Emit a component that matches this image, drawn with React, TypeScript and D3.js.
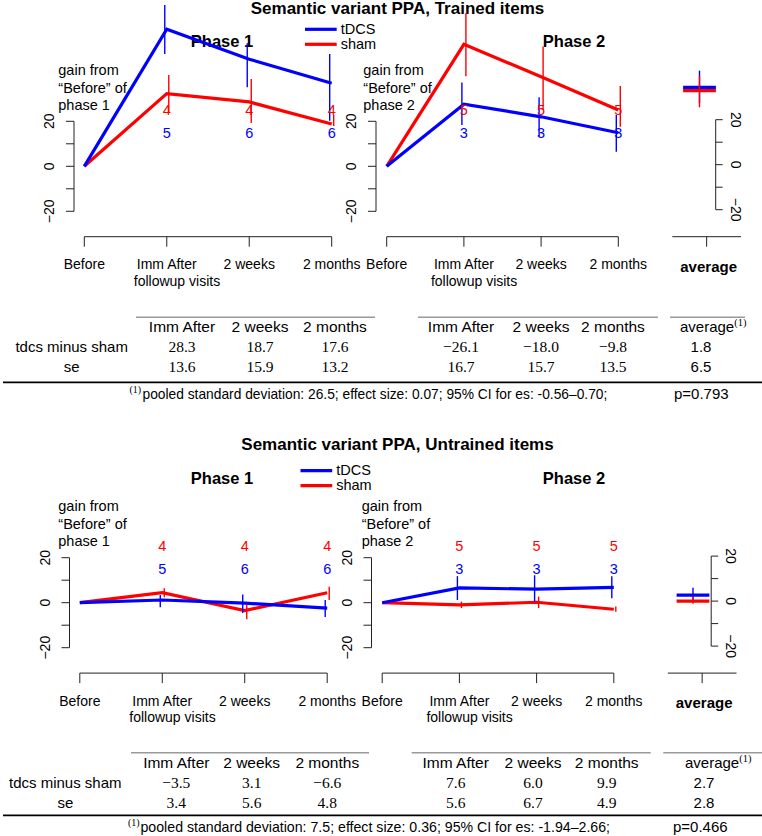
import React from "react";
import * as d3 from "d3";

// ---------- categories / labels ----------
const timepoints = ["Before", "Imm After", "2 weeks", "2 months"];
const tableCols = ["Imm After", "2 weeks", "2 months"];
const yTicks = [-20, -10, 0, 10, 20];
const yTickLabels = [-20, 0, 20];
const seriesNames = ["tDCS", "sham"];
const sectionTitles = ["Semantic variant PPA, Trained items", "Semantic variant PPA, Untrained items"];
const phaseTitles = ["Phase 1", "Phase 2"];

// ---------- Trained items ----------
const trP1TdcsMean = [0, 60.9, 47.6, 36.9];
const trP1TdcsLo = [0, 49.9, 35.1, 20.3];
const trP1TdcsHi = [0, 71.7, 54.7, 49.9];
const trP1ShamMean = [0, 32.3, 28.6, 18.8];
const trP1ShamLo = [0, 24.1, 19.2, 17.9];
const trP1ShamHi = [0, 40.6, 38.8, 22.8];
const trP2TdcsMean = [0, 27.6, 22.0, 14.9];
const trP2TdcsLo = [0, 18.4, 13.2, 6.5];
const trP2TdcsHi = [0, 37.2, 30.7, 22.8];
const trP2ShamMean = [0, 54.2, 39.8, 25.0];
const trP2ShamLo = [0, 40.0, 25.0, 17.6];
const trP2ShamHi = [0, 68.0, 53.2, 35.7];
const trAvgMean = [34.4, 32.9]; // tDCS, sham
const trAvgLo = [27.3, 25.5];
const trAvgHi = [41.8, 39.4];
const trP1TdcsN = [5, 6, 6];
const trP1ShamN = [4, 4, 4];
const trP2TdcsN = [3, 3, 3];
const trP2ShamN = [5, 5, 5];
const trDiff = [28.3, 18.7, 17.6, -26.1, -18.0, -9.8, 1.8];
const trSe = [13.6, 15.9, 13.2, 16.7, 15.7, 13.5, 6.5];

// ---------- Untrained items ----------
const unP1TdcsMean = [0, 1.2, -0.2, -2.4];
const unP1TdcsLo = [0, -2.0, -4.6, -6.4];
const unP1TdcsHi = [0, 3.4, 3.7, 1.2];
const unP1ShamMean = [0, 4.5, -3.5, 4.4];
const unP1ShamLo = [0, 2.4, -7.3, 1.2];
const unP1ShamHi = [0, 6.4, -1.0, 7.1];
const unP2TdcsMean = [0, 6.6, 6.0, 6.8];
const unP2TdcsLo = [0, 1.2, 0.5, 2.0];
const unP2TdcsHi = [0, 11.8, 12.2, 11.8];
const unP2ShamMean = [0, -1.0, 0.2, -2.9];
const unP2ShamLo = [0, -2.4, -2.4, -4.0];
const unP2ShamHi = [0, 0.5, 2.7, -1.7];
const unAvgMean = [2.7, 0.0];
const unAvgLo = [-0.2, -1.2];
const unAvgHi = [5.9, 2.0];
const unP1TdcsN = [5, 6, 6];
const unP1ShamN = [4, 4, 4];
const unP2TdcsN = [3, 3, 3];
const unP2ShamN = [5, 5, 5];
const unDiff = [-3.5, 3.1, -6.6, 7.6, 6.0, 9.9, 2.7];
const unSe = [3.4, 5.6, 4.8, 5.6, 6.7, 4.9, 2.8];

// footnotes (trained, untrained)
const footPooledSd = [26.5, 7.5];
const footEs = [0.07, 0.36];
const footCiLo = [-0.56, -1.94];
const footCiHi = [0.70, 2.66];
const footP = [0.793, 0.466];

// ---------- style ----------
const FONT = "'Liberation Sans', Arial, Helvetica, sans-serif";
const SERIF = "'Liberation Serif', 'Times New Roman', serif";
const BLUE = "#0000ff";
const RED = "#ff0000";
const AXIS = "#222";

const fmtNum = (v: number) => (v < 0 ? "\u2212" : "") + Math.abs(v).toFixed(1);
const fmtTick = (v: number) => (v < 0 ? "\u2212" : "") + Math.abs(v);

type Series = { mean: number[]; lo: number[]; hi: number[]; n: number[] };

function Panel(props: {
  x: d3.ScalePoint<string>;
  y: d3.ScaleLinear<number, number>;
  axisX: number;
  tdcs: Series;
  sham: Series;
  gainX: number;
  gainY: number;
  phaseNum: number;
}) {
  const { x, y, axisX, tdcs, sham, gainX, gainY, phaseNum } = props;
  const xAxisY = y(0) + 70.4;
  const line = d3
    .line<number>()
    .x((_, i) => x(timepoints[i]) as number)
    .y((d) => y(d));
  const r = x.range();
  const bars = (s: Series, color: string, off: number) =>
    s.mean.map((m, i) =>
      i === 0 ? null : (
        <line
          key={color + i}
          x1={(x(timepoints[i]) as number) + off}
          x2={(x(timepoints[i]) as number) + off}
          y1={y(s.lo[i])}
          y2={y(s.hi[i])}
          stroke={color}
          strokeWidth={1.4}
        />
      )
    );
  const nLabels = (s: Series, color: string, val: number) =>
    s.n.map((n, i) => (
      <text
        key={color + "n" + i}
        x={x(timepoints[i + 1]) as number}
        y={y(val) + 5}
        textAnchor="middle"
        fill={color}
        fontSize={14.5}
      >
        {n}
      </text>
    ));
  return (
    <g fontFamily={FONT}>
      {/* y axis */}
      <line x1={axisX} x2={axisX} y1={y(-20)} y2={y(20)} stroke={AXIS} strokeWidth={1} />
      {yTicks.map((t) => (
        <line key={"yt" + t} x1={axisX - 8} x2={axisX} y1={y(t)} y2={y(t)} stroke={AXIS} strokeWidth={1} />
      ))}
      {yTickLabels.map((t) => (
        <text
          key={"yl" + t}
          transform={`translate(${axisX - 20},${y(t)}) rotate(-90)`}
          textAnchor="middle"
          fontSize={14}
        >
          {fmtTick(t)}
        </text>
      ))}
      {/* x axis */}
      <line x1={r[0]} x2={r[1]} y1={xAxisY} y2={xAxisY} stroke={AXIS} strokeWidth={1} />
      {timepoints.map((t) => (
        <g key={"xt" + t}>
          <line x1={x(t)} x2={x(t)} y1={xAxisY} y2={xAxisY + 10} stroke={AXIS} strokeWidth={1} />
          <text x={x(t)} y={xAxisY + 32.6} textAnchor="middle" fontSize={14}>
            {t}
          </text>
        </g>
      ))}
      <text x={(x(timepoints[1]) as number) - 33} y={xAxisY + 49.3} fontSize={14}>
        followup visits
      </text>
      {/* gain text */}
      <text x={gainX} y={gainY} fontSize={14.5}>
        gain from
      </text>
      <text x={gainX} y={gainY + 17.5} fontSize={14.5}>
        “Before” of
      </text>
      <text x={gainX} y={gainY + 35} fontSize={14.5}>
        phase {phaseNum}
      </text>
      {/* data */}
      <path d={line(sham.mean) || ""} fill="none" stroke={RED} strokeWidth={3.2} />
      <path d={line(tdcs.mean) || ""} fill="none" stroke={BLUE} strokeWidth={3.2} />
      {bars(tdcs, BLUE, -2)}
      {bars(sham, RED, 2)}
      {nLabels(sham, RED, 25)}
      {nLabels(tdcs, BLUE, 15)}
    </g>
  );
}

function Section(props: {
  idx: number;
  dy: number;
  dx: number;
  legendDy: number;
  avgMarkX: number;
  gain2X: number;
  p1t: Series;
  p1s: Series;
  p2t: Series;
  p2s: Series;
  avgMean: number[];
  avgLo: number[];
  avgHi: number[];
  diff: number[];
  se: number[];
  tb: any;
}) {
  const { idx, dy, dx, legendDy, avgMarkX, gain2X, p1t, p1s, p2t, p2s, avgMean, avgLo, avgHi, diff, se, tb } = props;
  const zeroY = 166.3 + dy;
  const y = d3.scaleLinear().domain([-20, 20]).range([zeroY + 45, zeroY - 45]);
  const yAvg = d3.scaleLinear().domain([-20, 20]).range([zeroY - 1.6 + 45, zeroY - 1.6 - 45]);
  const x1 = d3.scalePoint<string>().domain(timepoints).range([84.3 + dx, 331.7 + dx]);
  const x2 = d3.scalePoint<string>().domain(timepoints).range([386.7 + dx, 618.3 + dx]);
  const xAvg = d3.scalePoint<string>().domain(["average"]).range([672.3 + dx, 741 + dx]).padding(0.5);
  const avgTickX = xAvg("average") as number;
  const avgAxisX = 715.7 + dx;
  const xAxisY = zeroY + 70.4;
  const colors = [BLUE, RED];

  const legY = [29.3 + dy + legendDy, 44.3 + dy + legendDy];

  return (
    <g fontFamily={FONT}>
      <text x={397.5} y={14 + dy} textAnchor="middle" fontWeight="bold" fontSize={17}>
        {sectionTitles[idx]}
      </text>
      <text x={222} y={47.3 + dy} textAnchor="middle" fontWeight="bold" fontSize={16.5}>
        {phaseTitles[0]}
      </text>
      <text x={574} y={47.3 + dy} textAnchor="middle" fontWeight="bold" fontSize={16.5}>
        {phaseTitles[1]}
      </text>
      <Panel x={x1} y={y} axisX={74 + dx} tdcs={p1t} sham={p1s} gainX={58.3} gainY={75 + dy} phaseNum={1} />
      <Panel x={x2} y={y} axisX={376 + dx} tdcs={p2t} sham={p2s} gainX={gain2X} gainY={75 + dy} phaseNum={2} />
      {/* legend */}
      {seriesNames.map((s, i) => (
        <g key={s}>
          <line x1={305 + dx} x2={336.7 + dx} y1={legY[i]} y2={legY[i]} stroke={colors[i]} strokeWidth={3.2} />
          <text x={340.7 + dx} y={legY[i] + 4.5} fontSize={14.5}>
            {s}
          </text>
        </g>
      ))}
      {/* average panel */}
      <line x1={xAvg.range()[0]} x2={xAvg.range()[1]} y1={xAxisY} y2={xAxisY} stroke={AXIS} strokeWidth={1} />
      <line x1={avgTickX} x2={avgTickX} y1={xAxisY} y2={xAxisY + 10} stroke={AXIS} strokeWidth={1} />
      <text x={avgTickX + 2} y={xAxisY + 35} textAnchor="middle" fontWeight="bold" fontSize={15}>
        average
      </text>
      <line x1={avgAxisX} x2={avgAxisX} y1={yAvg(-20)} y2={yAvg(20)} stroke={AXIS} strokeWidth={1} />
      {yTicks.map((t) => (
        <line key={"ayt" + t} x1={avgAxisX} x2={avgAxisX + 7} y1={yAvg(t)} y2={yAvg(t)} stroke={AXIS} strokeWidth={1} />
      ))}
      {yTickLabels.map((t) => (
        <text
          key={"ayl" + t}
          transform={`translate(${avgAxisX + 15},${yAvg(t)}) rotate(90)`}
          textAnchor="middle"
          fontSize={14}
        >
          {fmtTick(t)}
        </text>
      ))}
      {avgMean.map((m, i) => (
        <g key={"avg" + i}>
          <line x1={avgMarkX - 16.4} x2={avgMarkX + 16.4} y1={yAvg(m)} y2={yAvg(m)} stroke={colors[i]} strokeWidth={3.2} />
          <line x1={avgMarkX} x2={avgMarkX} y1={yAvg(avgLo[i])} y2={yAvg(avgHi[i])} stroke={colors[i]} strokeWidth={1.4} />
        </g>
      ))}
      {/* table */}
      <Table idx={idx} diff={diff} se={se} tb={tb} />
    </g>
  );
}

function Table(props: { idx: number; diff: number[]; se: number[]; tb: any }) {
  const { idx, diff, se, tb } = props;
  const colX = tb.colX as number[];
  const foot = `pooled standard deviation: ${footPooledSd[idx].toFixed(1)}; effect size: ${footEs[idx].toFixed(
    2
  )}; 95% CI for es: ${footCiLo[idx].toFixed(2)}–${footCiHi[idx].toFixed(2)};`;
  return (
    <g>
      {tb.rules.map((r: number[], i: number) => (
        <line key={"r" + i} x1={r[0]} x2={r[1]} y1={tb.ruleY} y2={tb.ruleY} stroke="#999" strokeWidth={1.6} />
      ))}
      {[0, 1].map((p) =>
        tableCols.map((c, j) => (
          <text key={"h" + p + j} x={colX[p * 3 + j]} y={tb.headerY} textAnchor="middle" fontSize={15.5}>
            {c}
          </text>
        ))
      )}
      <text x={tb.avgHeaderX} y={tb.headerY} fontSize={15}>
        average
        <tspan fontSize={10.5} dy={-6} fontFamily={SERIF}>
          (1)
        </tspan>
      </text>
      <text x={tb.labelX} y={tb.row1Y} textAnchor="middle" fontSize={15}>
        tdcs minus sham
      </text>
      <text x={tb.labelX} y={tb.row2Y} textAnchor="middle" fontSize={15}>
        se
      </text>
      {diff.map((v, i) => (
        <text
          key={"d" + i}
          x={i < 6 ? colX[i] : tb.avgNumX}
          y={tb.row1Y}
          textAnchor="middle"
          fontSize={i < 6 ? 15.5 : 15}
          fontFamily={i < 6 ? SERIF : FONT}
        >
          {i < 6 ? fmtNum(v) : v.toFixed(1)}
        </text>
      ))}
      {se.map((v, i) => (
        <text
          key={"s" + i}
          x={i < 6 ? colX[i] : tb.avgNumX}
          y={tb.row2Y}
          textAnchor="middle"
          fontSize={i < 6 ? 15.5 : 15}
          fontFamily={i < 6 ? SERIF : FONT}
        >
          {i < 6 ? fmtNum(v) : v.toFixed(1)}
        </text>
      ))}
      <line x1={3} x2={762} y1={tb.bottomRuleY} y2={tb.bottomRuleY} stroke="#000" strokeWidth={1.8} />
      <text x={tb.footSupX} y={tb.footY - 6} fontSize={10} fontFamily={SERIF}>
        (1)
      </text>
      <text x={tb.footTextX} y={tb.footY} fontSize={15} textLength={tb.footLen} lengthAdjust="spacingAndGlyphs">
        {foot}
      </text>
      <text x={tb.footPX} y={tb.footY} fontSize={15}>
        {`p=${footP[idx].toFixed(3)}`}
      </text>
    </g>
  );
}

const topTable = {
  ruleY: 317.3,
  rules: [
    [136, 375],
    [418, 658],
    [670, 745],
  ],
  headerY: 331.7,
  row1Y: 351.7,
  row2Y: 371.7,
  bottomRuleY: 382.3,
  footY: 399.3,
  labelX: 71.7,
  colX: [182, 260, 335, 461, 541, 613],
  avgHeaderX: 680,
  avgNumX: 701,
  footSupX: 129.5,
  footTextX: 142.5,
  footLen: 464.8,
  footPX: 674,
};
const bottomTable = {
  ruleY: 752.7,
  rules: [
    [131, 369],
    [411.7, 650.7],
    [663.3, 762],
  ],
  headerY: 768,
  row1Y: 788.3,
  row2Y: 808.3,
  bottomRuleY: 815.3,
  footY: 832,
  labelX: 65.3,
  colX: [176.3, 251.7, 327.3, 455.7, 533, 606.7],
  avgHeaderX: 685,
  avgNumX: 704,
  footSupX: 128,
  footTextX: 140.5,
  footLen: 469.5,
  footPX: 673,
};

export default function App() {
  return (
    <svg
      width={762}
      height={836}
      viewBox="0 0 762 836"
      style={{ position: "absolute", left: 0, top: 0, background: "#fff" }}
    >
      <rect x={0} y={0} width={762} height={836} fill="#fff" />
      <Section
        idx={0}
        dy={0}
        dx={0}
        legendDy={0}
        avgMarkX={699.5}
        gain2X={363.3}
        p1t={{ mean: trP1TdcsMean, lo: trP1TdcsLo, hi: trP1TdcsHi, n: trP1TdcsN }}
        p1s={{ mean: trP1ShamMean, lo: trP1ShamLo, hi: trP1ShamHi, n: trP1ShamN }}
        p2t={{ mean: trP2TdcsMean, lo: trP2TdcsLo, hi: trP2TdcsHi, n: trP2TdcsN }}
        p2s={{ mean: trP2ShamMean, lo: trP2ShamLo, hi: trP2ShamHi, n: trP2ShamN }}
        avgMean={trAvgMean}
        avgLo={trAvgLo}
        avgHi={trAvgHi}
        diff={trDiff}
        se={trSe}
        tb={topTable}
      />
      <Section
        idx={1}
        dy={436.4}
        dx={-4.5}
        legendDy={4.9}
        avgMarkX={693}
        gain2X={361.7}
        p1t={{ mean: unP1TdcsMean, lo: unP1TdcsLo, hi: unP1TdcsHi, n: unP1TdcsN }}
        p1s={{ mean: unP1ShamMean, lo: unP1ShamLo, hi: unP1ShamHi, n: unP1ShamN }}
        p2t={{ mean: unP2TdcsMean, lo: unP2TdcsLo, hi: unP2TdcsHi, n: unP2TdcsN }}
        p2s={{ mean: unP2ShamMean, lo: unP2ShamLo, hi: unP2ShamHi, n: unP2ShamN }}
        avgMean={unAvgMean}
        avgLo={unAvgLo}
        avgHi={unAvgHi}
        diff={unDiff}
        se={unSe}
        tb={bottomTable}
      />
    </svg>
  );
}
